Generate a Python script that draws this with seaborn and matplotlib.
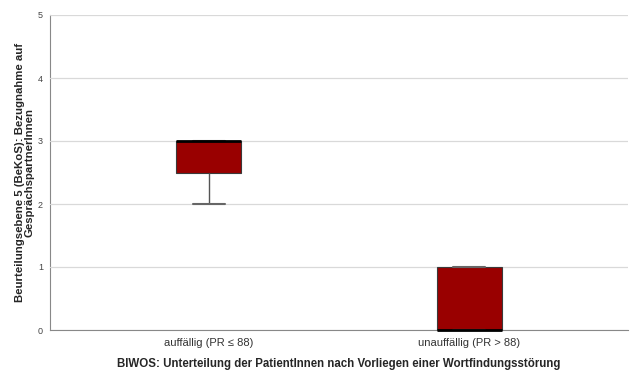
import matplotlib
matplotlib.use("Agg")
import matplotlib.pyplot as plt
import seaborn as sns
import pandas as pd

# Ratings per group
categories = ["auffällig (PR ≤ 88)", "unauffällig (PR > 88)"]
values_auffaellig = [2, 3, 3]
values_unauffaellig = [0, 0, 0, 1, 1]
y_ticks = [0, 1, 2, 3, 4, 5]

df = pd.DataFrame({
    "gruppe": [categories[0]] * len(values_auffaellig) + [categories[1]] * len(values_unauffaellig),
    "wert": values_auffaellig + values_unauffaellig,
})

sns.set_theme(style="white")
plt.rcParams["font.family"] = ["Liberation Sans", "DejaVu Sans"]

fig = plt.figure(figsize=(6.3, 3.71), dpi=100)
ax = fig.add_axes([50 / 630, 1 - 330 / 371, 578 / 630, 315 / 371])

sns.boxplot(
    data=df, x="gruppe", y="wert", order=categories, ax=ax,
    width=0.25, color="#990000", saturation=1, whis=1.5, fliersize=0,
    boxprops=dict(facecolor="#990000", edgecolor="#3a3a3a", linewidth=0.8),
    medianprops=dict(color="black", linewidth=2),
    whiskerprops=dict(color="#555555", linewidth=1),
    capprops=dict(color="#666666", linewidth=1.5),
    showcaps=True,
)
# keep medians lying on the axis limits fully visible
for line in ax.lines:
    line.set_clip_on(False)
for patch in ax.patches:
    patch.set_clip_on(False)

ax.set_xlim(-0.6115, 1.6115)
ax.set_ylim(0, 5)
ax.set_yticks(y_ticks)
ax.set_yticklabels([str(t) for t in y_ticks], fontsize=6.5, color="#444444")
ax.tick_params(axis="x", labelsize=8, colors="#333333", length=0, pad=6)
ax.tick_params(axis="y", length=0, pad=5)
ax.yaxis.grid(True, color="#d9d9d9", linewidth=0.9)
ax.set_axisbelow(True)

for side in ["top", "right"]:
    ax.spines[side].set_visible(False)
for side in ["left", "bottom"]:
    ax.spines[side].set_color("#888888")
    ax.spines[side].set_linewidth(0.8)
    ax.spines[side].set_zorder(0.5)

ax.set_xlabel("BIWOS: Unterteilung der PatientInnen nach Vorliegen einer Wortfindungsstörung",
              fontsize=8.3, fontweight="bold", labelpad=7)
ax.set_ylabel("Beurteilungsebene 5 (BeKoS): Bezugnahme auf\nGesprächspartnerInnen",
              fontsize=8.2, fontweight="bold", labelpad=2.5, linespacing=0.95)

fig.savefig("out.png", dpi=100)
